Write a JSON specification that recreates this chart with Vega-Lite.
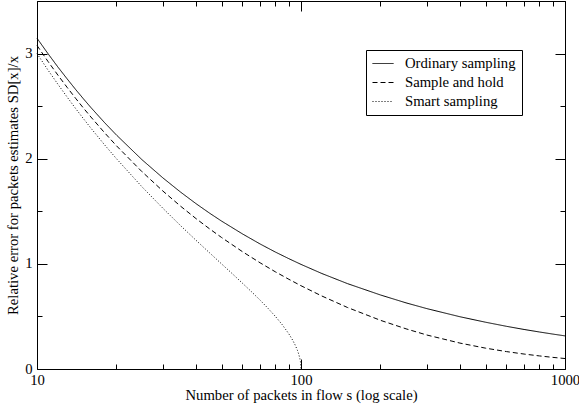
{
  "$schema": "https://vega.github.io/schema/vega-lite/v6.json",
  "width": 528,
  "height": 368,
  "autosize": {"type": "none"},
  "padding": {"left": 37, "top": 1, "right": 14, "bottom": 42},
  "background": "white",
  "config": {
    "view": {"stroke": "black", "strokeWidth": 1},
    "font": "Liberation Serif",
    "axis": {"grid": false, "domain": false, "tickColor": "black", "labelColor": "black", "labelFont": "Liberation Serif", "labelFontSize": 14.7, "titleFont": "Liberation Serif", "titleFontSize": 14.7, "titleFontWeight": "normal", "titleColor": "black", "tickWidth": 1}
  },
  "data": {"values": [
    {"series": "Ordinary sampling", "s": 10, "err": 3.146},
    {"series": "Ordinary sampling", "s": 11, "err": 3.0},
    {"series": "Ordinary sampling", "s": 12, "err": 2.872},
    {"series": "Ordinary sampling", "s": 13, "err": 2.760},
    {"series": "Ordinary sampling", "s": 14, "err": 2.659},
    {"series": "Ordinary sampling", "s": 15, "err": 2.569},
    {"series": "Ordinary sampling", "s": 16, "err": 2.487},
    {"series": "Ordinary sampling", "s": 18, "err": 2.345},
    {"series": "Ordinary sampling", "s": 20, "err": 2.225},
    {"series": "Ordinary sampling", "s": 25, "err": 1.990},
    {"series": "Ordinary sampling", "s": 30, "err": 1.817},
    {"series": "Ordinary sampling", "s": 35, "err": 1.682},
    {"series": "Ordinary sampling", "s": 40, "err": 1.573},
    {"series": "Ordinary sampling", "s": 45, "err": 1.483},
    {"series": "Ordinary sampling", "s": 50, "err": 1.407},
    {"series": "Ordinary sampling", "s": 60, "err": 1.285},
    {"series": "Ordinary sampling", "s": 70, "err": 1.189},
    {"series": "Ordinary sampling", "s": 80, "err": 1.112},
    {"series": "Ordinary sampling", "s": 90, "err": 1.049},
    {"series": "Ordinary sampling", "s": 100, "err": 0.995},
    {"series": "Ordinary sampling", "s": 120, "err": 0.908},
    {"series": "Ordinary sampling", "s": 150, "err": 0.812},
    {"series": "Ordinary sampling", "s": 200, "err": 0.704},
    {"series": "Ordinary sampling", "s": 250, "err": 0.629},
    {"series": "Ordinary sampling", "s": 300, "err": 0.574},
    {"series": "Ordinary sampling", "s": 400, "err": 0.497},
    {"series": "Ordinary sampling", "s": 500, "err": 0.445},
    {"series": "Ordinary sampling", "s": 600, "err": 0.406},
    {"series": "Ordinary sampling", "s": 700, "err": 0.376},
    {"series": "Ordinary sampling", "s": 800, "err": 0.352},
    {"series": "Ordinary sampling", "s": 900, "err": 0.332},
    {"series": "Ordinary sampling", "s": 1000, "err": 0.315},
    {"series": "Sample and hold", "s": 10, "err": 3.077},
    {"series": "Sample and hold", "s": 11, "err": 2.926},
    {"series": "Sample and hold", "s": 12, "err": 2.795},
    {"series": "Sample and hold", "s": 13, "err": 2.679},
    {"series": "Sample and hold", "s": 14, "err": 2.575},
    {"series": "Sample and hold", "s": 15, "err": 2.481},
    {"series": "Sample and hold", "s": 16, "err": 2.397},
    {"series": "Sample and hold", "s": 18, "err": 2.249},
    {"series": "Sample and hold", "s": 20, "err": 2.123},
    {"series": "Sample and hold", "s": 25, "err": 1.876},
    {"series": "Sample and hold", "s": 30, "err": 1.692},
    {"series": "Sample and hold", "s": 35, "err": 1.548},
    {"series": "Sample and hold", "s": 40, "err": 1.431},
    {"series": "Sample and hold", "s": 45, "err": 1.334},
    {"series": "Sample and hold", "s": 50, "err": 1.251},
    {"series": "Sample and hold", "s": 60, "err": 1.116},
    {"series": "Sample and hold", "s": 70, "err": 1.010},
    {"series": "Sample and hold", "s": 80, "err": 0.924},
    {"series": "Sample and hold", "s": 90, "err": 0.853},
    {"series": "Sample and hold", "s": 100, "err": 0.792},
    {"series": "Sample and hold", "s": 120, "err": 0.694},
    {"series": "Sample and hold", "s": 150, "err": 0.585},
    {"series": "Sample and hold", "s": 200, "err": 0.463},
    {"series": "Sample and hold", "s": 250, "err": 0.382},
    {"series": "Sample and hold", "s": 300, "err": 0.323},
    {"series": "Sample and hold", "s": 400, "err": 0.2465},
    {"series": "Sample and hold", "s": 500, "err": 0.1983},
    {"series": "Sample and hold", "s": 600, "err": 0.1656},
    {"series": "Sample and hold", "s": 700, "err": 0.1421},
    {"series": "Sample and hold", "s": 800, "err": 0.1244},
    {"series": "Sample and hold", "s": 900, "err": 0.1105},
    {"series": "Sample and hold", "s": 1000, "err": 0.0995},
    {"series": "Smart sampling", "s": 10, "err": 3.0},
    {"series": "Smart sampling", "s": 11, "err": 2.844},
    {"series": "Smart sampling", "s": 12, "err": 2.708},
    {"series": "Smart sampling", "s": 13, "err": 2.587},
    {"series": "Smart sampling", "s": 14, "err": 2.478},
    {"series": "Smart sampling", "s": 15, "err": 2.380},
    {"series": "Smart sampling", "s": 16, "err": 2.291},
    {"series": "Smart sampling", "s": 18, "err": 2.134},
    {"series": "Smart sampling", "s": 20, "err": 2.0},
    {"series": "Smart sampling", "s": 25, "err": 1.732},
    {"series": "Smart sampling", "s": 30, "err": 1.528},
    {"series": "Smart sampling", "s": 35, "err": 1.363},
    {"series": "Smart sampling", "s": 40, "err": 1.225},
    {"series": "Smart sampling", "s": 45, "err": 1.106},
    {"series": "Smart sampling", "s": 50, "err": 1.0},
    {"series": "Smart sampling", "s": 55, "err": 0.905},
    {"series": "Smart sampling", "s": 60, "err": 0.816},
    {"series": "Smart sampling", "s": 65, "err": 0.734},
    {"series": "Smart sampling", "s": 70, "err": 0.655},
    {"series": "Smart sampling", "s": 75, "err": 0.577},
    {"series": "Smart sampling", "s": 80, "err": 0.5},
    {"series": "Smart sampling", "s": 85, "err": 0.420},
    {"series": "Smart sampling", "s": 90, "err": 0.333},
    {"series": "Smart sampling", "s": 93, "err": 0.274},
    {"series": "Smart sampling", "s": 95, "err": 0.229},
    {"series": "Smart sampling", "s": 97, "err": 0.176},
    {"series": "Smart sampling", "s": 98, "err": 0.143},
    {"series": "Smart sampling", "s": 99, "err": 0.1005},
    {"series": "Smart sampling", "s": 99.5, "err": 0.0709},
    {"series": "Smart sampling", "s": 100, "err": 0.0}
  ]},
  "layer": [
    {
      "mark": {"type": "line", "color": "black", "strokeWidth": 1},
      "encoding": {
        "x": {"field": "s", "type": "quantitative", "scale": {"type": "log", "domain": [10, 1000], "nice": false},
          "axis": {"orient": "bottom", "values": [10, 100, 1000], "format": "d", "tickSize": -10, "labelPadding": 13, "labelOverlap": false, "labelFlush": false,
            "title": "Number of packets in flow s (log scale)", "titleY": 30, "titleX": 264, "titleBaseline": "alphabetic", "titleAlign": "center"}},
        "y": {"field": "err", "type": "quantitative", "scale": {"domain": [0, 3.5], "nice": false},
          "axis": {"orient": "left", "values": [0, 1, 2, 3], "format": "d", "tickSize": -10, "labelPadding": 15, "labelOverlap": false, "labelFlush": false,
            "title": "Relative error for packets estimates SD[x]/x", "titleX": -20, "titleY": 184, "titleBaseline": "alphabetic", "titleAlign": "center", "titleAngle": -90}},
        "strokeDash": {"field": "series", "type": "nominal",
          "scale": {"domain": ["Ordinary sampling", "Sample and hold", "Smart sampling"], "range": [[1, 0], [5, 3], [1, 2]]},
          "legend": {"title": null, "orient": "none", "legendX": 329, "legendY": 49, "symbolType": "stroke", "symbolSize": 441,
            "symbolStrokeWidth": 1, "symbolStrokeColor": "black", "labelFont": "Liberation Serif", "labelFontSize": 14.7, "labelColor": "black",
            "strokeColor": "black", "fillColor": "white", "padding": 6, "rowPadding": 3, "clipHeight": 15, "labelOffset": 11, "cornerRadius": 0}}
      }
    },
    {
      "mark": {"type": "point", "opacity": 0},
      "encoding": {
        "x": {"field": "s", "type": "quantitative", "axis": {"orient": "bottom", "values": [20, 30, 40, 50, 60, 70, 80, 90, 200, 300, 400, 500, 600, 700, 800, 900], "tickSize": -5, "labels": false, "title": null}},
        "y": {"field": "err", "type": "quantitative", "axis": {"orient": "left", "values": [0.5, 1.5, 2.5, 3.5], "tickSize": -5, "labels": false, "title": null}}
      }
    },
    {
      "mark": {"type": "point", "opacity": 0},
      "encoding": {
        "x": {"field": "s", "type": "quantitative", "axis": {"orient": "top", "values": [10, 100, 1000], "tickSize": -10, "labels": false, "title": null}},
        "y": {"field": "err", "type": "quantitative", "axis": {"orient": "right", "values": [0, 1, 2, 3], "tickSize": -10, "labels": false, "title": null}}
      }
    },
    {
      "mark": {"type": "point", "opacity": 0},
      "encoding": {
        "x": {"field": "s", "type": "quantitative", "axis": {"orient": "top", "values": [20, 30, 40, 50, 60, 70, 80, 90, 200, 300, 400, 500, 600, 700, 800, 900], "tickSize": -5, "labels": false, "title": null}},
        "y": {"field": "err", "type": "quantitative", "axis": {"orient": "right", "values": [0.5, 1.5, 2.5, 3.5], "tickSize": -5, "labels": false, "title": null}}
      }
    }
  ],
  "resolve": {"axis": {"x": "independent", "y": "independent"}}
}
